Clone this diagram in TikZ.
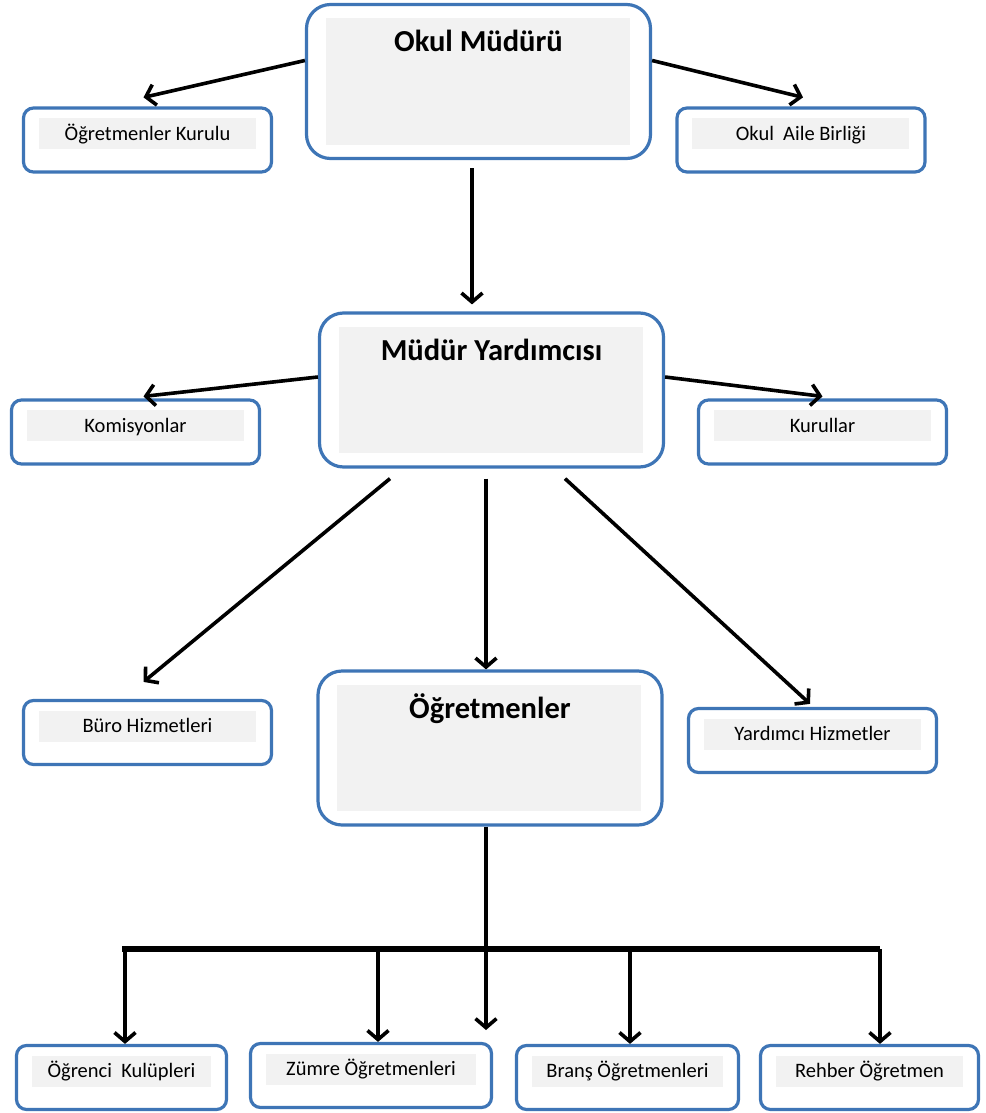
\documentclass[tikz,border=0pt]{standalone}
\usepackage{fontspec}
\setmainfont{Carlito}
\usetikzlibrary{arrows.meta,calc}
\definecolor{mavi}{RGB}{62,117,182}
\definecolor{gri}{RGB}{242,242,242}
\tikzset{
  kutu/.style={draw=mavi, line width=3.2pt, inner sep=0pt, fill=white},
  kucuk/.style={kutu, rounded corners=10pt, minimum width=248pt, text height=32pt, text depth=32pt,
    font=\fontsize{20.5}{24}\selectfont,
    path picture={\fill[gri,sharp corners] ($(path picture bounding box.north west)+(15,10)$) rectangle ($(path picture bounding box.north east)+(-16,41)$);}},
  buyuk/.style={kutu, rounded corners=24pt, minimum width=344pt, text height=47pt, text depth=107pt,
    font=\fontsize{30.5}{36}\selectfont\bfseries,
    path picture={\fill[gri,sharp corners] ($(path picture bounding box.north west)+(19,14)$) rectangle ($(path picture bounding box.south east)+(-21,-14)$);}},
  ok/.style={draw=black, line width=3.6pt, -{Straight Barb[length=9pt,width=21pt]}},
}
\begin{document}
\begin{tikzpicture}[x=1pt,y=-1pt]
	\useasboundingbox (0,0) rectangle (985,1113);
	% kutular
	\node[buyuk] (mudur) at (478.5,81.5) {Okul Müdürü};
	\node[kucuk] (kurulu) at (147.5,140) {Öğretmenler Kurulu};
	\node[kucuk] (aile) at (801,140) {Okul\ \ Aile Birliği};
	\node[buyuk] (yrd) at (491.5,390) {Müdür Yardımcısı};
	\node[kucuk] (komisyon) at (135.5,432) {Komisyonlar};
	\node[kucuk] (kurullar) at (822.5,432) {Kurullar};
	\node[kucuk] (buro) at (147.5,732.5) {Büro Hizmetleri};
	\node[buyuk] (ogr) at (490,748) {Öğretmenler};
	\node[kucuk] (yardimci) at (812.5,740.5) {Yardımcı Hizmetler};
	\node[kucuk, minimum width=210pt] (kulup) at (121.5,1077.5) {Öğrenci~ Kulüpleri};
	\node[kucuk, minimum width=241pt] (zumre) at (371,1075.5) {Zümre Öğretmenleri};
	\node[kucuk, minimum width=222pt] (brans) at (627.5,1077.5) {Branş Öğretmenleri};
	\node[kucuk, minimum width=218pt] (rehber) at (869.5,1077.5) {Rehber Öğretmen};

	% oklar
	\draw[ok] ([yshift=21pt]mudur.west) -- ([xshift=-4pt,yshift=9pt]kurulu.north);
	\draw[ok] ([yshift=21pt]mudur.east) -- ([xshift=2pt,yshift=9pt]aile.north);
	\coordinate (m1) at ([xshift=-6.5pt,yshift=-8pt]mudur.south);
	\draw[ok, shorten >=7pt] (m1) -- (m1 |- yrd.north);
	\draw[ok] ([yshift=13pt]yrd.west) -- ([xshift=8pt,yshift=2pt]komisyon.north);
	\draw[ok] ([yshift=13pt]yrd.east) -- ([yshift=2pt]kurullar.north);
	\draw[ok] ([xshift=-101.5pt,yshift=-10pt]yrd.south) -- ([xshift=-4pt,yshift=17pt]buro.north);
	\coordinate (y1) at ([xshift=-5.5pt,yshift=-10pt]yrd.south);
	\draw[ok] (y1) -- (y1 |- ogr.north);
	\draw[ok] ([xshift=73.5pt,yshift=-10pt]yrd.south) -- ([xshift=-2.5pt,yshift=3pt]yardimci.north);

	% alt hat
	\coordinate (hatL) at (122,949);
	\coordinate (hatR) at (880,949);
	\draw[line width=6pt] (hatL) -- (hatR);
	\coordinate (o1) at ([xshift=-4pt]ogr.south);
	\coordinate (orta) at (486,1030);
	\draw[ok] (o1) -- (orta);
	\foreach \n/\d in {kulup/3.5,zumre/7,brans/2.5,rehber/10.5} {
		\coordinate (u) at ([xshift=\d pt]\n.north);
		\draw[ok] (u |- hatL) -- (u);
	}
\end{tikzpicture}
\end{document}
